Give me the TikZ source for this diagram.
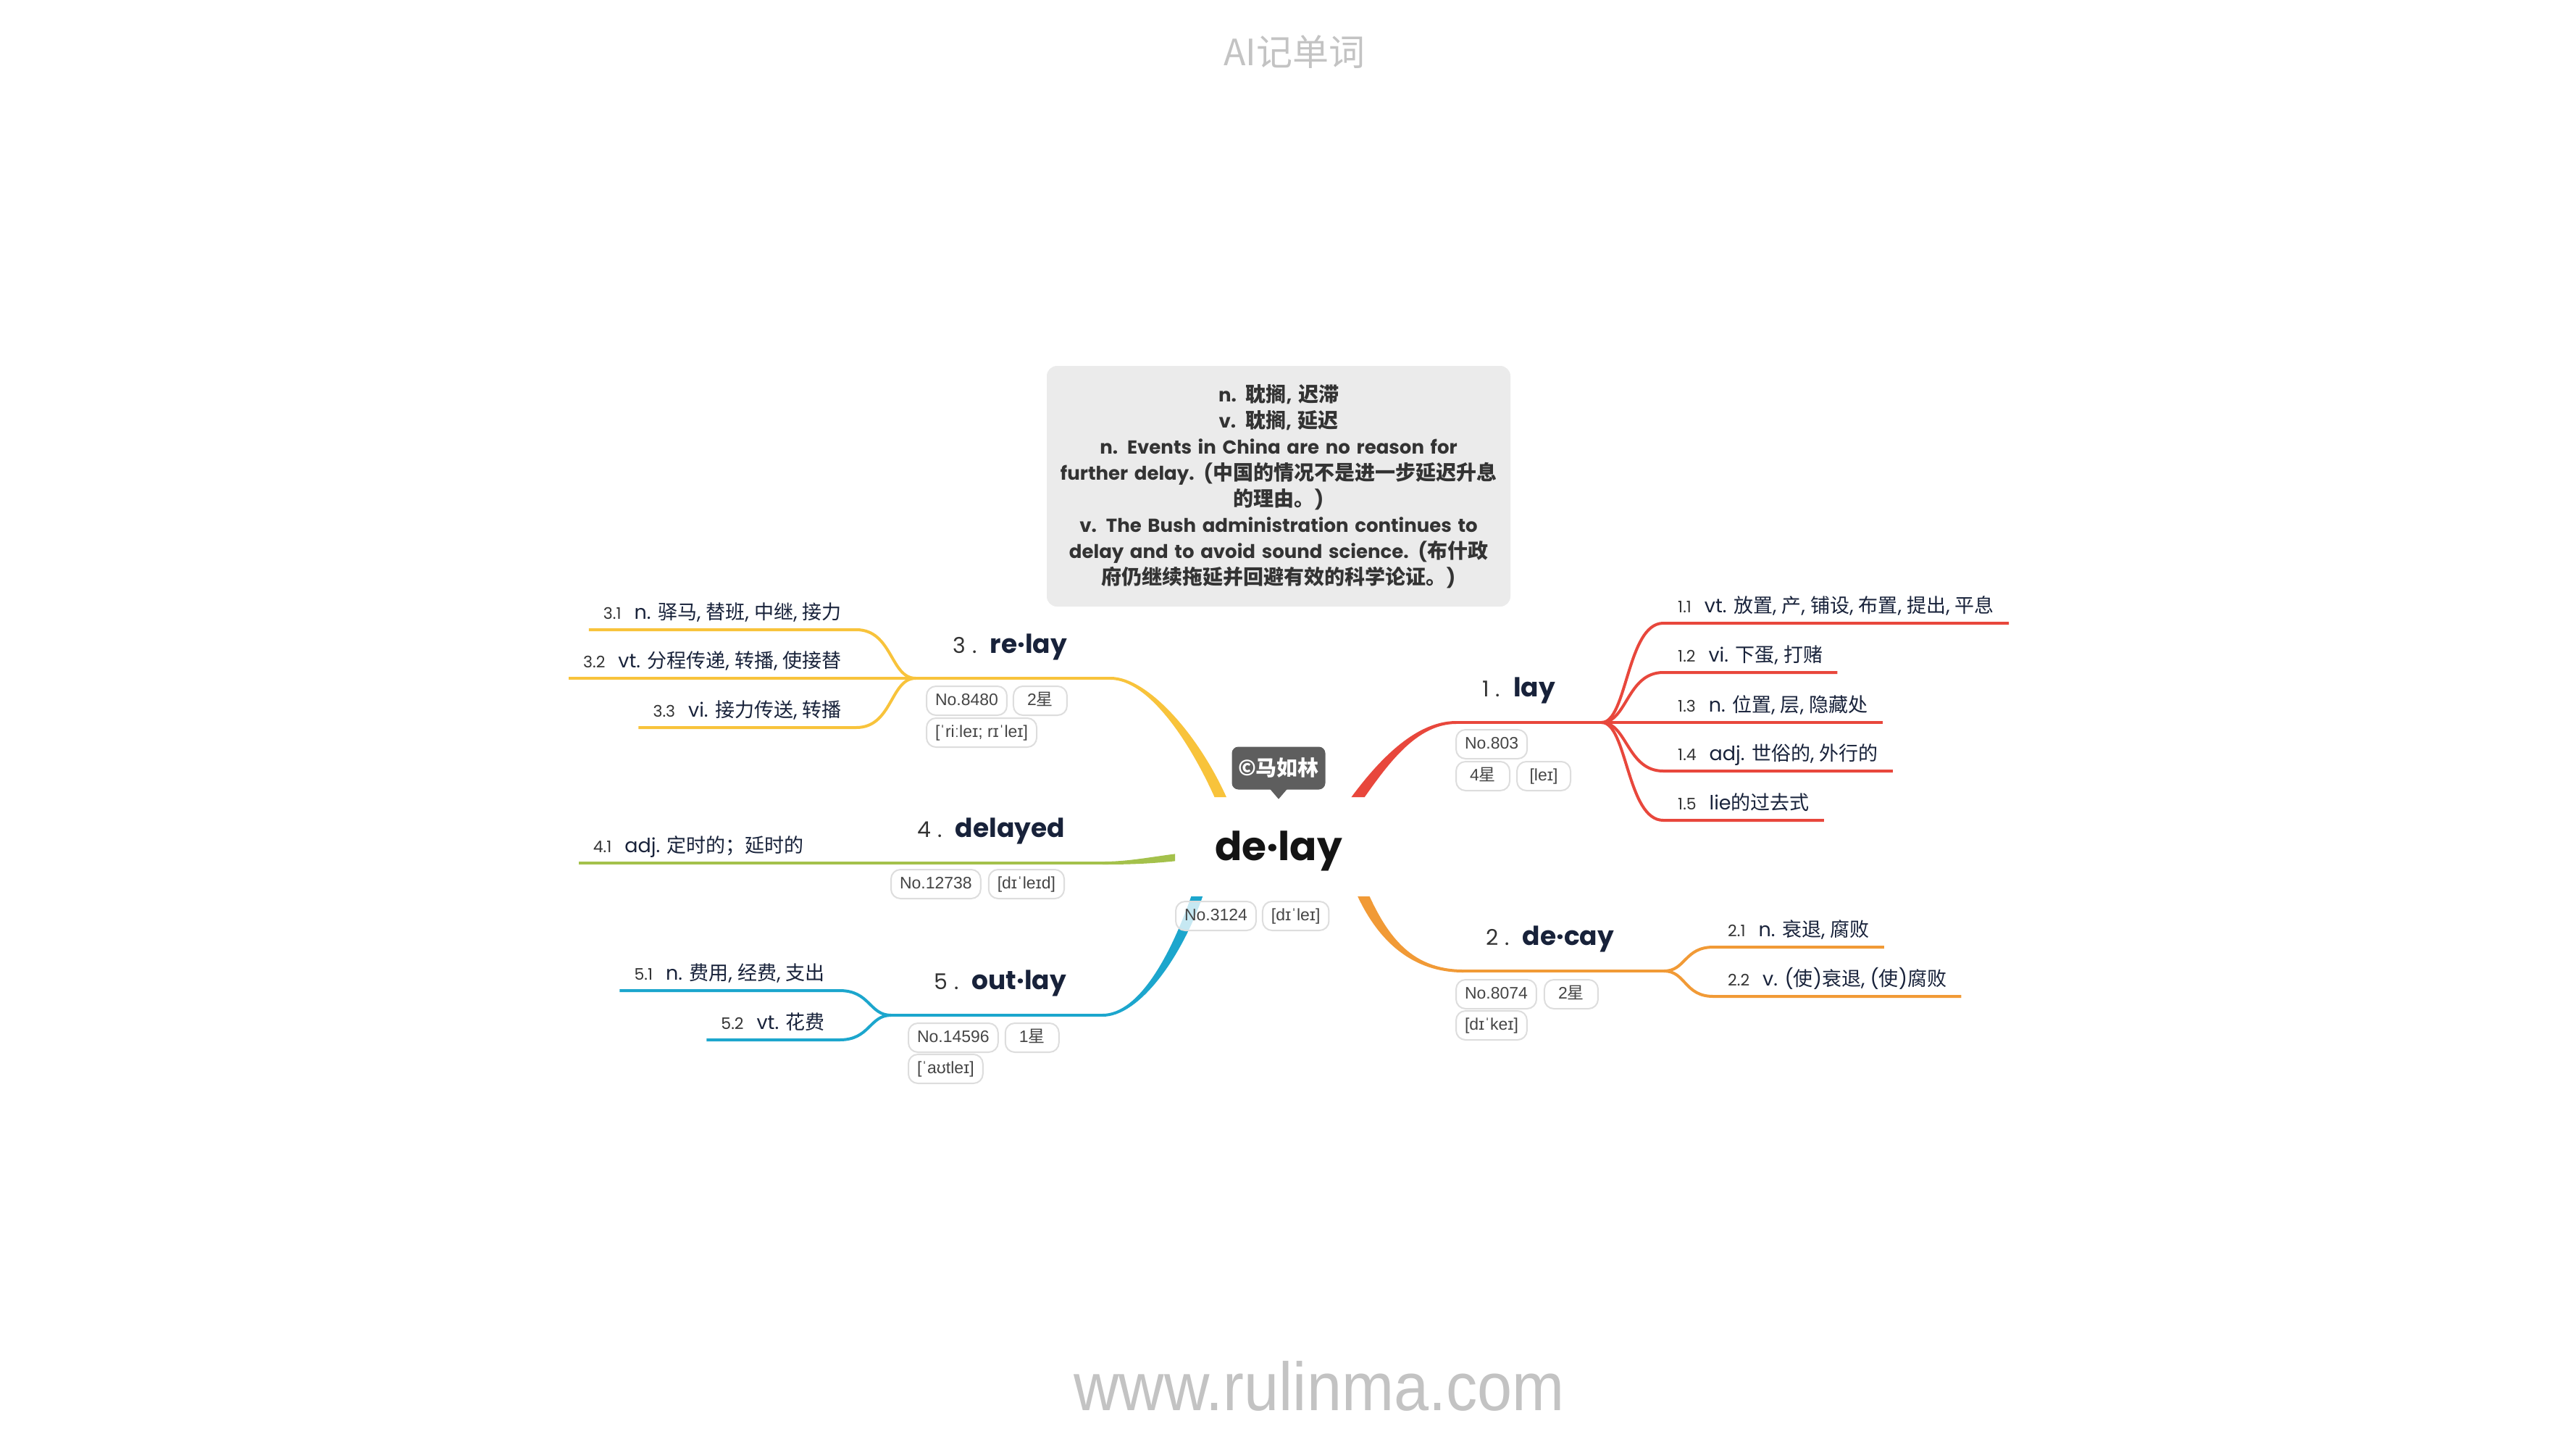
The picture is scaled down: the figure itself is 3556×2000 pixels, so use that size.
\documentclass[tikz,border=0pt]{standalone}
\usepackage{fontspec}
\setmainfont{Poppins}
\newfontfamily\cjk{Noto Sans CJK SC}
\newfontfamily\tagfont{Liberation Sans}
\newfontfamily\sitefont[FakeStretch=0.92]{Liberation Sans}
\usetikzlibrary{calc,positioning}

\definecolor{cred}{HTML}{E8473C}
\definecolor{corange}{HTML}{F19A36}
\definecolor{cyellow}{HTML}{F8C33B}
\definecolor{cgreen}{HTML}{A4C14B}
\definecolor{cblue}{HTML}{1CA6CD}
\definecolor{ink}{HTML}{18223A}
\definecolor{numink}{HTML}{333333}
\definecolor{boxfill}{HTML}{EBEBEB}
\definecolor{boxink}{HTML}{333333}
\definecolor{tagline}{HTML}{DDDDDD}
\definecolor{tagink}{HTML}{454545}
\definecolor{bubblegray}{HTML}{5E5E5E}
\definecolor{faint}{HTML}{C3C3C3}

\newcommand\pxsize[1]{\fontsize{#1}{#1}\selectfont}
\newcommand\zh[1]{{\cjk #1}}
% Chinese runs inside the definition card are set a little larger than its Latin text
\newcommand\zhcard[1]{{\cjk\fontsize{28}{36}\selectfont #1}}
\newcommand\itemno[1]{{\pxsize{22}\color{numink}#1}\hspace{18pt}}
\newcommand\topicno[1]{{\pxsize{30}\color{numink}#1\hspace{9pt}.}\hspace{18pt}}
\newcommand\topicword[1]{{\pxsize{36}\bfseries\color{ink}#1}}

% tapered branch: colour, thick end, control 1, control 2, thin end, half widths
\newcommand\taper[7]{%
  \path ($(#2)!#6!90:(#3)$) coordinate (tAl)
        ($(#2)!#6!-90:(#3)$) coordinate (tAr)
        ($(#5)!#7!-90:(#4)$) coordinate (tBl)
        ($(#5)!#7!90:(#4)$) coordinate (tBr);
  \fill[#1] (tAl) .. controls ($(#3)+(tAl)-(#2)$) and ($(#4)+(tBl)-(#5)$) .. (tBl)
        -- (tBr) .. controls ($(#4)+(tBr)-(#5)$) and ($(#3)+(tAr)-(#2)$) .. (tAr) -- cycle;}

\tikzset{
  subline/.style={draw=#1, line width=4pt},
  sub/.style={inner xsep=20pt, inner ysep=14pt, text height=20pt, text depth=0pt,
    font=\pxsize{27}, text=ink},
  subR/.style={sub, anchor=south west},
  subL/.style={sub, anchor=south east},
  topicR/.style={inner sep=0pt, anchor=base west},
  topicL/.style={inner sep=0pt, anchor=base east},
  tagbox/.style={draw=tagline, line width=2pt, rounded corners=13pt, fill=white,
    fill opacity=0.75, text opacity=1, inner xsep=12pt, inner ysep=0pt,
    minimum height=40pt, minimum width=74pt, text height=17pt, text depth=5pt,
    font=\tagfont\pxsize{23}, text=tagink, anchor=west},
  defbox/.style={fill=boxfill, rounded corners=14pt, minimum width=640pt,
    minimum height=332pt, inner xsep=0pt, text width=632pt, align=center,
    font=\fontsize{26}{36}\selectfont\bfseries, text=boxink},
  bubble/.style={fill=bubblegray, rounded corners=9pt, minimum width=129pt,
    minimum height=59pt, text=white, font=\cjk\bfseries\pxsize{29}},
  faintlabel/.style={text=faint, inner sep=0pt, anchor=base},
}

\begin{document}
\begin{tikzpicture}[x=1pt, y=-1pt]
\fill[white] (0,0) rectangle (3556,2000);
\useasboundingbox (0,0) rectangle (3556,2000);

% header and footer
\node[faintlabel, font=\cjk\pxsize{50}] (title) at (1787,90) {AI记单词};
\node[faintlabel, font=\sitefont\pxsize{94}] (site) at (1821,1946) {www.rulinma.com};

% definition card
\node[defbox] (def) at (1765,671) {%
  n. \zhcard{耽搁}, \zhcard{迟滞}\\
  v. \zhcard{耽搁}, \zhcard{延迟}\\
  n. Events in China are no reason for\\
  further delay. (\zhcard{中国的情况不是进一步延迟升息}\\
  \zhcard{的理由。})\\
  v. The Bush administration continues to\\
  delay and to avoid sound science. (\zhcard{布什政}\\
  \zhcard{府仍继续拖延并回避有效的科学论证。})};

% branch geometry
\coordinate (A1) at (1866,1112); \coordinate (P1) at (1902,1062);
\coordinate (Q1) at (1950,997);  \coordinate (B1) at (2010,997);
\coordinate (F1) at (2211,997);
\coordinate (A2) at (1877,1225); \coordinate (P2) at (1905,1290);
\coordinate (Q2) at (1945,1340); \coordinate (B2) at (2020,1340);
\coordinate (F2) at (2297,1340);
\coordinate (A3) at (1690,1112); \coordinate (P3) at (1651,1020);
\coordinate (Q3) at (1585,936);  \coordinate (B3) at (1533,936);
\coordinate (F3) at (1264,936);
\coordinate (A4) at (1634,1182); \coordinate (P4) at (1590,1187);
\coordinate (Q4) at (1560,1191); \coordinate (B4) at (1522,1191);
\coordinate (A5) at (1656,1226); \coordinate (P5) at (1625,1320);
\coordinate (Q5) at (1572,1401); \coordinate (B5) at (1522,1401);
\coordinate (F5) at (1230,1401);

\begin{scope}
  % everything except the central word's frame
  \clip (0,0) -- (3556,0) -- (3556,2000) -- (0,2000) -- cycle
        (1622,1100) -- (1622,1237) -- (1910,1237) -- (1910,1100) -- cycle;
  \taper{cred}{A1}{P1}{Q1}{B1}{7.5pt}{2pt}
  \taper{corange}{A2}{P2}{Q2}{B2}{7.5pt}{2pt}
  \taper{cyellow}{A3}{P3}{Q3}{B3}{7.5pt}{2pt}
  \taper{cgreen}{A4}{P4}{Q4}{B4}{5pt}{2pt}
  \taper{cblue}{A5}{P5}{Q5}{B5}{7.5pt}{2pt}
\end{scope}

% topic words
\node[topicR] (t1) at (2046,961)  {\topicno{1}\topicword{lay}};
\node[topicR] (t2) at (2051,1304) {\topicno{2}\topicword{de·cay}};
\node[topicL] (t3) at (1473,901)  {\topicno{3}\topicword{re·lay}};
\node[topicL] (t4) at (1470,1155) {\topicno{4}\topicword{delayed}};
\node[topicL] (t5) at (1472,1365) {\topicno{5}\topicword{out·lay}};

% sub items of lay
\node[subR] (l11) at (2296,860)  {\itemno{1.1}vt. \zh{放置}, \zh{产}, \zh{铺设}, \zh{布置}, \zh{提出}, \zh{平息}};
\node[subR] (l12) at (2296,928)  {\itemno{1.2}vi. \zh{下蛋}, \zh{打赌}};
\node[subR] (l13) at (2296,997)  {\itemno{1.3}n. \zh{位置}, \zh{层}, \zh{隐藏处}};
\node[subR] (l14) at (2296,1064) {\itemno{1.4}adj. \zh{世俗的}, \zh{外行的}};
\node[subR] (l15) at (2296,1132) {\itemno{1.5}lie\zh{的过去式}};
\draw[subline=cred] (B1) -- (F1);
\foreach \n in {l11,l12,l14,l15}
  \draw[subline=cred] (F1) .. controls +(35,0) and +(-50,0) .. (\n.south west) -- (\n.south east);
\draw[subline=cred] (F1) -- (l13.south east);

% sub items of de·cay
\node[subR] (l21) at (2365,1307) {\itemno{2.1}n. \zh{衰退}, \zh{腐败}};
\node[subR] (l22) at (2365,1375) {\itemno{2.2}v. (\zh{使})\zh{衰退}, (\zh{使})\zh{腐败}};
\draw[subline=corange] (B2) -- (F2);
\foreach \n in {l21,l22}
  \draw[subline=corange] (F2) .. controls +(30,0) and +(-40,0) .. (\n.south west) -- (\n.south east);

% sub items of re·lay
\node[subL] (l31) at (1182,869)  {\itemno{3.1}n. \zh{驿马}, \zh{替班}, \zh{中继}, \zh{接力}};
\node[subL] (l32) at (1182,936)  {\itemno{3.2}vt. \zh{分程传递}, \zh{转播}, \zh{使接替}};
\node[subL] (l33) at (1182,1004) {\itemno{3.3}vi. \zh{接力传送}, \zh{转播}};
\draw[subline=cyellow] (B3) -- (F3);
\foreach \n in {l31,l33}
  \draw[subline=cyellow] (F3) .. controls +(-35,0) and +(50,0) .. (\n.south east) -- (\n.south west);
\draw[subline=cyellow] (F3) -- (l32.south west);

% sub item of delayed
\node[subL] (l41) at (1130,1191) {\itemno{4.1}adj. \zh{定时的；延时的}};
\draw[subline=cgreen] (B4) -- (l41.south west);

% sub items of out·lay
\node[subL] (l51) at (1159,1367) {\itemno{5.1}n. \zh{费用}, \zh{经费}, \zh{支出}};
\node[subL] (l52) at (1159,1435) {\itemno{5.2}vt. \zh{花费}};
\draw[subline=cblue] (B5) -- (F5);
\foreach \n in {l51,l52}
  \draw[subline=cblue] (F5) .. controls +(-30,0) and +(42,0) .. (\n.south east) -- (\n.south west);

% central word, author bubble and tags
\node[inner sep=0pt, anchor=base, font=\pxsize{55}\bfseries, text=black!92] (root) at (1765,1187) {de·lay};
\node[bubble] (author) at (1765,1060) {©马如林};
\fill[bubblegray] ($(author.south)+(-12,-1)$) -- ($(author.south)+(12,-1)$) -- ($(author.south)+(0,13)$) -- cycle;

\node[tagbox] (c1) at (1622,1264) {No.3124};
\node[tagbox, right=7pt of c1] (c2) {[dɪˈleɪ]};

\node[tagbox] (g1a) at (2009,1027) {No.803};
\node[tagbox] (g1b) at (2009,1071) {4\zh{星}};
\node[tagbox, right=8pt of g1b] (g1c) {[leɪ]};

\node[tagbox] (g2a) at (2009,1372) {No.8074};
\node[tagbox, right=9pt of g2a] (g2b) {2\zh{星}};
\node[tagbox] (g2c) at (2009,1415) {[dɪˈkeɪ]};

\node[tagbox] (g3a) at (1278,967) {No.8480};
\node[tagbox, right=7pt of g3a] (g3b) {2\zh{星}};
\node[tagbox] (g3c) at (1278,1011) {[ˈriːleɪ; rɪˈleɪ]};

\node[tagbox] (g4a) at (1229,1220) {No.12738};
\node[tagbox, right=9pt of g4a] (g4b) {[dɪˈleɪd]};

\node[tagbox] (g5a) at (1253,1432) {No.14596};
\node[tagbox, right=8pt of g5a] (g5b) {1\zh{星}};
\node[tagbox] (g5c) at (1253,1475) {[ˈaʊtleɪ]};
\end{tikzpicture}
\end{document}
